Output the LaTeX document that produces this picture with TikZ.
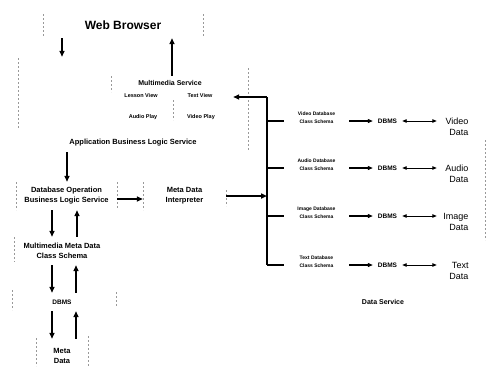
\documentclass[tikz,border=0pt]{standalone}
\usepackage{fontspec}
\setmainfont{Liberation Sans}
\usetikzlibrary{arrows.meta,calc}
\begin{document}
\begin{tikzpicture}[x=1pt,y=-1pt,
  area/.style={inner sep=0pt, align=center},
  tWB/.style={font=\bfseries\fontsize{12}{14}\selectfont},
  tMain/.style={font=\bfseries\fontsize{7.5}{10}\selectfont},
  tMS/.style={font=\bfseries\fontsize{7}{9}\selectfont},
  tSmall/.style={font=\bfseries\fontsize{5.5}{7}\selectfont},
  tSch/.style={font=\bfseries\fontsize{5}{8.5}\selectfont},
  tDB/.style={font=\bfseries\fontsize{6.5}{8}\selectfont},
  tData/.style={font=\fontsize{9}{11}\selectfont},
  arr/.style={-{Triangle[length=6pt,width=5pt]}, line width=1.8pt},
  marr/.style={-{Triangle[length=5pt,width=4pt]}, line width=1.1pt},
  dbl/.style={{Triangle[length=4.5pt,width=3.5pt]}-{Triangle[length=4.5pt,width=3.5pt]}, line width=0.9pt},
  br/.style={line width=1.1pt},
  bus/.style={line width=2pt},
  ghost/.style={draw=black!40, line width=0.7pt, dash pattern=on 2pt off 2pt}]
\fill[white] (0,0) rectangle (499,373);
\path[use as bounding box] (0,0) rectangle (499,373);

% faint box edges
\draw[ghost] (43,14) -- (43,36);
\draw[ghost] (203,14) -- (203,36);
\draw[ghost] (18,58) -- (18,128);
\draw[ghost] (111,76) -- (111,92);
\draw[ghost] (248,68) -- (248,150);
\draw[ghost] (173,100) -- (173,120);
\draw[ghost] (16,182) -- (16,210);
\draw[ghost] (117,182) -- (117,208);
\draw[ghost] (143,182) -- (143,210);
\draw[ghost] (226,190) -- (226,206);
\draw[ghost] (14,237) -- (14,262);
\draw[ghost] (12,290) -- (12,310);
\draw[ghost] (116,292) -- (116,306);
\draw[ghost] (36,338) -- (36,366);
\draw[ghost] (88,336) -- (88,366);
\draw[ghost] (485,140) -- (485,240);

% nodes
\node[area, tWB, minimum width=160pt, minimum height=26pt] (wb) at (123,25) {Web Browser};
\node[area, minimum width=230pt, minimum height=95pt] (app) at (133,104.5) {};
\node[area, tMain] (applbl) at (133,143) {Application Business Logic Service};
\node[area, minimum width=122pt, minimum height=52pt] (mm) at (172,102) {};
\node[area, tMS] (mmlbl) at (170,83) {Multimedia Service};
\node[area, tSmall] (lv) at (141,96) {Lesson View};
\node[area, tSmall] (tv) at (200,96) {Text View};
\node[area, tSmall] (ap) at (143,117) {Audio Play};
\node[area, tSmall] (vp) at (201,117) {Video Play};
\node[area, tMain, minimum width=101pt, minimum height=28pt] (dbop) at (66.5,196) {Database Operation\\Business Logic Service};
\node[area, tMain, minimum width=83pt, minimum height=28pt] (interp) at (184.5,196) {Meta Data\\Interpreter};
\node[area, tMain, minimum width=96pt, minimum height=28pt] (mmm) at (62,251) {Multimedia Meta Data\\Class Schema};
\node[area, tDB, minimum width=104pt, minimum height=18pt] (dbms0) at (62,302) {DBMS};
\node[area, tMain, minimum width=52pt, minimum height=34pt] (meta) at (62,356) {Meta\\Data};
\node[area, tMS] (dslbl) at (383,302) {Data Service};

\coordinate (bustop) at (267,97);

\foreach \n/\r/\nm in {A/121/Video, B/168/Audio, C/216/Image, D/265/Text} {
  \node[area, tSch, minimum width=65pt, minimum height=22pt] (sch\n) at (316.5,\r-3.5) {\nm\ Database\\Class Schema};
  \node[area, tDB, minimum width=29pt, minimum height=14pt] (db\n) at (387.5,\r) {DBMS};
  \node[tData, text width=28pt, align=right, inner xsep=3.5pt, inner ysep=0pt, minimum height=24pt] (dat\n) at (454.5,\r+6) {\nm\\Data};
  \draw[br] (bustop |- db\n) -- (sch\n.west |- db\n);
  \draw[marr] (sch\n.east |- db\n) -- (db\n.west);
  \draw[dbl] (db\n.east) -- (db\n.east -| dat\n.west);
}

% bus
\draw[bus] (bustop) -- (bustop |- dbD);
\draw[arr] (bustop) -- (mm.east |- bustop);
\draw[arr] (interp.east) -- (interp.east -| bustop);

% left arrows
\draw[arr] ([xshift=-61pt]wb.south) -- ([xshift=-71pt]app.north);
\draw[arr] (mm.north) -- ([xshift=49pt]wb.south);
\draw[arr] ([xshift=-66pt]app.south) -- ([xshift=0.5pt]dbop.north);
\draw[arr] ([yshift=-3pt]dbop.east) -- ([yshift=-3pt]interp.west);
\draw[arr] ([xshift=-14.5pt]dbop.south) -- ([xshift=-10pt]mmm.north);
\draw[arr] ([xshift=15pt]mmm.north) -- ([xshift=10.5pt]dbop.south);
\draw[arr] ([xshift=-10pt]mmm.south) -- ([xshift=-10pt]dbms0.north);
\draw[arr] ([xshift=14pt]dbms0.north) -- ([xshift=14pt]mmm.south);
\draw[arr] ([xshift=-10pt]dbms0.south) -- ([xshift=-10pt]meta.north);
\draw[arr] ([xshift=14pt]meta.north) -- ([xshift=14pt]dbms0.south);
\end{tikzpicture}
\end{document}
